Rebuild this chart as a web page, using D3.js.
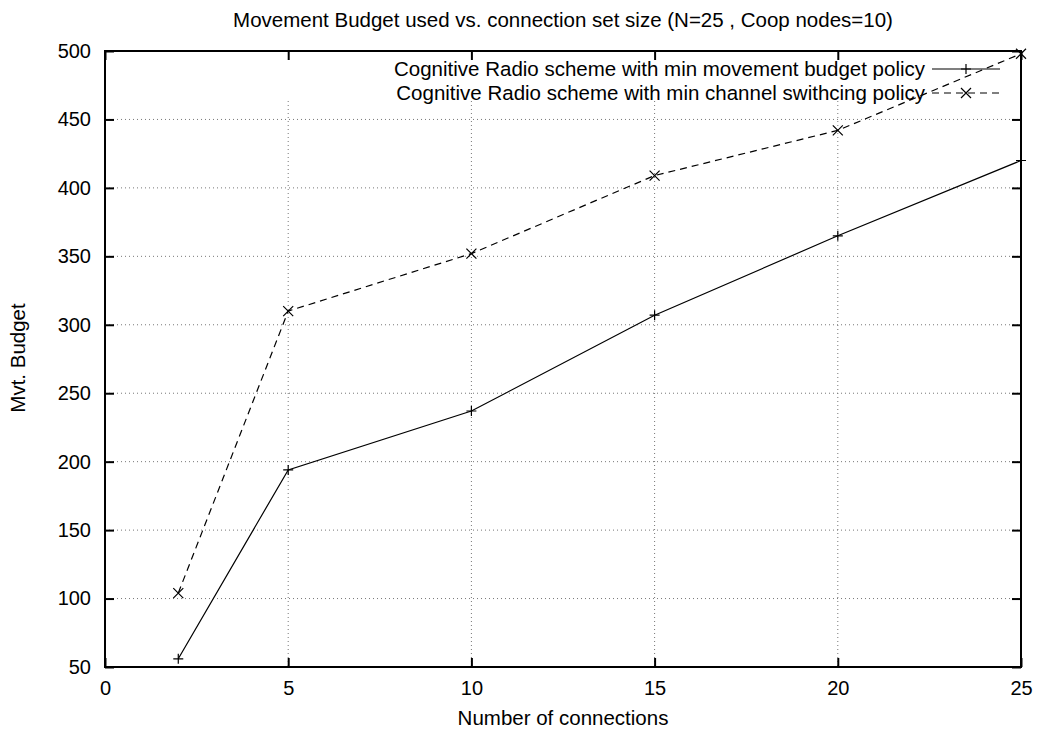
<!DOCTYPE html>
<html>
<head>
<meta charset="utf-8">
<script src="https://cdn.jsdelivr.net/npm/d3@7/dist/d3.min.js"></script>
<style>
  html, body { margin: 0; padding: 0; background: #fff; }
  svg { display: block; font-family: "Liberation Sans", Arial, sans-serif; }
</style>
</head>
<body>
<svg id="chart" width="1045" height="731"></svg>
<script>
// Connection set sizes on the x axis
const connections = [2, 5, 10, 15, 20, 25];
// Movement budget used by each policy
const minMovementBudget = [56, 194, 237, 307, 365, 420];
const minChannelSwitching = [104, 310, 352, 409, 442, 498];

const xTicks = [0, 5, 10, 15, 20, 25];
const yTicks = [50, 100, 150, 200, 250, 300, 350, 400, 450, 500];

const titleText = "Movement Budget used vs. connection set size (N=25 , Coop nodes=10)";
const xTitle = "Number of connections";
const yTitle = "Mvt. Budget";
const seriesNames = [
  "Cognitive Radio scheme with min movement budget policy",
  "Cognitive Radio scheme with min channel swithcing policy"
];

const svg = d3.select("#chart");
const plotLeft = 105, plotRight = 1021, plotTop = 51, plotBottom = 667;
const fontSize = "20.5px";
const tickFontSize = "20px";

const x = d3.scaleLinear().domain([0, 25]).range([plotLeft, plotRight]);
const y = d3.scaleLinear().domain([50, 500]).range([plotBottom, plotTop]);

// Grid lines (vertical ones stop below the key area)
const grid = svg.append("g").attr("stroke", "#777").attr("stroke-width", 1)
  .attr("stroke-dasharray", "1,3");
xTicks.slice(1, -1).forEach(t => {
  grid.append("line").attr("x1", x(t)).attr("x2", x(t))
    .attr("y1", 101).attr("y2", plotBottom);
});
yTicks.slice(1, -1).forEach(t => {
  grid.append("line").attr("x1", plotLeft).attr("x2", plotRight)
    .attr("y1", y(t)).attr("y2", y(t));
});

// Axes with inward ticks, mirrored on the opposite sides
const tickLen = 9;
const axB = svg.append("g").attr("transform", `translate(0,${plotBottom})`)
  .call(d3.axisBottom(x).tickValues(xTicks).tickSizeInner(-tickLen).tickSizeOuter(0).tickPadding(14));
const axT = svg.append("g").attr("transform", `translate(0,${plotTop})`)
  .call(d3.axisTop(x).tickValues(xTicks).tickSizeInner(-tickLen).tickSizeOuter(0).tickFormat(""));
const axL = svg.append("g").attr("transform", `translate(${plotLeft},0)`)
  .call(d3.axisLeft(y).tickValues(yTicks).tickSizeInner(-tickLen).tickSizeOuter(0).tickPadding(14));
const axR = svg.append("g").attr("transform", `translate(${plotRight},0)`)
  .call(d3.axisRight(y).tickValues(yTicks).tickSizeInner(-tickLen).tickSizeOuter(0).tickFormat(""));
[axB, axT, axL, axR].forEach(a => {
  a.select(".domain").remove();
  a.selectAll(".tick line").attr("stroke", "#000").attr("stroke-width", 2);
  a.selectAll(".tick text").attr("fill", "#000").style("font-size", tickFontSize)
    .style("font-family", "'Liberation Sans', Arial, sans-serif");
});

// Plot frame
svg.append("rect").attr("x", plotLeft).attr("y", plotTop)
  .attr("width", plotRight - plotLeft).attr("height", plotBottom - plotTop)
  .attr("fill", "none").attr("stroke", "#000").attr("stroke-width", 2);

// Titles
svg.append("text").attr("x", 563).attr("y", 27).attr("text-anchor", "middle")
  .style("font-size", fontSize).text(titleText);
svg.append("text").attr("x", 563).attr("y", 725).attr("text-anchor", "middle")
  .style("font-size", fontSize).text(xTitle);
svg.append("text").attr("transform", "translate(25,358) rotate(-90)")
  .attr("text-anchor", "middle").style("font-size", fontSize).text(yTitle);

// Marker shapes
function plus(g, cx, cy) {
  const s = 5;
  g.append("path").attr("d", `M${cx - s},${cy}H${cx + s}M${cx},${cy - s}V${cy + s}`)
    .attr("stroke", "#000").attr("stroke-width", 1.2).attr("fill", "none");
}
function cross(g, cx, cy) {
  const s = 5;
  g.append("path").attr("d", `M${cx - s},${cy - s}L${cx + s},${cy + s}M${cx - s},${cy + s}L${cx + s},${cy - s}`)
    .attr("stroke", "#000").attr("stroke-width", 1.2).attr("fill", "none");
}

const line = d3.line().x(d => x(d[0])).y(d => y(d[1]));
const series = [
  { values: minMovementBudget, dash: null, marker: plus },
  { values: minChannelSwitching, dash: "7,5", marker: cross }
];

// Key
const keyRows = [69, 93];
series.forEach((s, i) => {
  const ky = keyRows[i];
  svg.append("text").attr("x", 925).attr("y", ky).attr("dy", "0.35em")
    .attr("text-anchor", "end").style("font-size", fontSize).text(seriesNames[i]);
  svg.append("line").attr("x1", 932).attr("x2", 1000).attr("y1", ky).attr("y2", ky)
    .attr("stroke", "#000").attr("stroke-width", 1.2)
    .attr("stroke-dasharray", s.dash);
  s.marker(svg, 966, ky);
});

// Data lines and markers
series.forEach(s => {
  const pts = connections.map((c, i) => [c, s.values[i]]);
  svg.append("path").datum(pts).attr("d", line)
    .attr("fill", "none").attr("stroke", "#000").attr("stroke-width", 1.2)
    .attr("stroke-dasharray", s.dash);
  const g = svg.append("g");
  pts.forEach(p => s.marker(g, x(p[0]), y(p[1])));
});
</script>
</body>
</html>
